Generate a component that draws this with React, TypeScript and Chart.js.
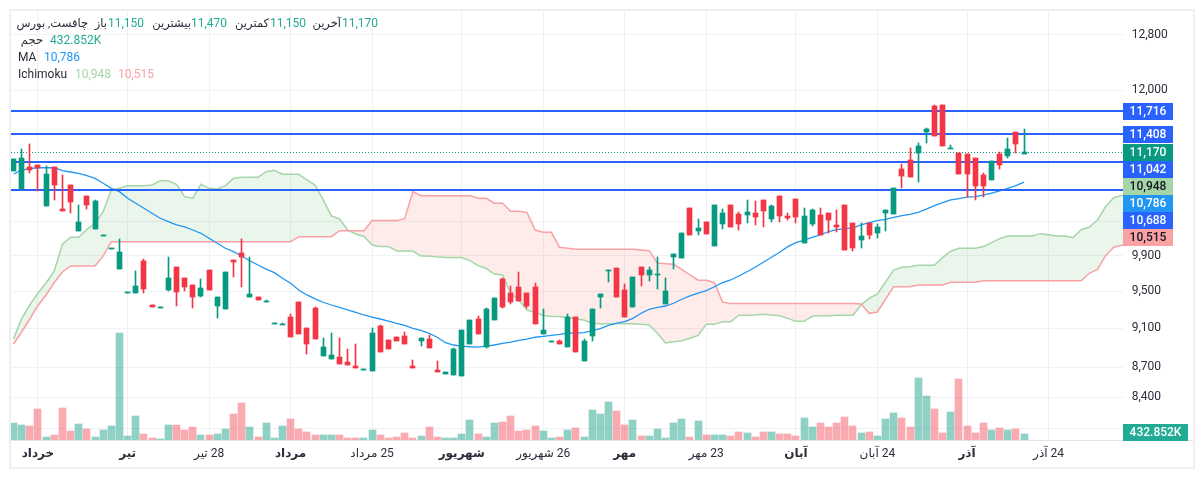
import React, { useEffect, useRef } from "react"
import { Chart, registerables } from "chart.js"

Chart.register(...registerables)

const opens = [
  10927, 10702, 10978, 11004, 10492, 10978, 10455, 10751, 10191, 10615,
  10215, 10136, 9988, 9750, 9490, 9483, 9842, 9351, 9325, 9516,
  9773, 9649, 9571, 9450, 9739, 9340, 9308, 9853, 9934, 9439,
  9439, 9384, 9153, 9146, 9221, 9384, 9104, 9319, 8813, 8782,
  8802, 8752, 8711, 8676, 8660, 9125, 8978, 9010, 9020, 8711,
  8968, 8988, 8670, 8630, 8620, 8610, 8936, 9200, 8905, 9189,
  9638, 9483, 9549, 9483, 9549, 9041, 8963, 8968, 8905, 9221,
  8762, 9020, 9439, 9738, 9762, 9516, 9330, 9773, 9683, 9690,
  9362, 9888, 9876, 10468, 10191, 10299, 10015, 10275, 10504, 10395,
  10383, 10407, 10566, 10335, 10615, 10371, 10578, 10050, 10275, 10383,
  10407, 10263, 10504, 10287, 10085, 10287, 10168, 10407, 10395, 10953,
  11068, 11159, 11435, 11786, 11800, 11219, 11159, 11146, 11094, 10877,
  10814, 11146, 11120, 11435, 11150,
]
const closes = [
  11081, 11094, 10940, 10969, 10890, 10751, 10431, 10541, 10299, 10508,
  10554, 10140, 9990, 9946, 9492, 9560, 9527, 9333, 9327, 9649,
  9494, 9549, 9439, 9538, 9516, 9439, 9717, 9830, 9888, 9472,
  9406, 9395, 9155, 9148, 9010, 9041, 8936, 8988, 8905, 8823,
  8731, 8721, 8690, 8678, 9051, 8854, 8884, 8968, 8936, 8690,
  8999, 8894, 8650, 8650, 8884, 9083, 9189, 9041, 9308, 9428,
  9330, 9384, 9395, 9340, 9147, 9083, 8965, 8936, 9221, 8854,
  8968, 9308, 9472, 9740, 9439, 9221, 9661, 9683, 9739, 9692,
  9505, 9923, 10168, 10144, 10227, 10156, 10504, 10407, 10239, 10275,
  10419, 10359, 10431, 10492, 10371, 10347, 10359, 10371, 10443, 10144,
  10323, 10239, 9969, 9992, 10132, 10144, 10239, 10443, 10714, 10864,
  10852, 11250, 11474, 11382, 11250, 11221, 10890, 10890, 10739, 10739,
  11055, 11004, 11211, 11277, 11170,
]
const highs = [
  11081, 11211, 11277, 11004, 10991, 10978, 10877, 10751, 10504, 10615,
  10566, 10140, 9990, 10097, 9492, 9728, 9865, 9351, 9327, 9888,
  9773, 9649, 9571, 9638, 9739, 9439, 9717, 9853, 10097, 9888,
  9439, 9406, 9155, 9157, 9254, 9384, 9104, 9330, 8999, 9051,
  8999, 8884, 8936, 8678, 9104, 9136, 8978, 9010, 9062, 8772,
  8999, 9030, 8762, 8650, 8894, 9083, 9189, 9232, 9319, 9428,
  9649, 9560, 9717, 9483, 9594, 9308, 8965, 8978, 9254, 9221,
  8988, 9308, 9472, 9740, 9762, 9582, 9661, 9773, 9773, 9888,
  9649, 9923, 10168, 10468, 10335, 10299, 10504, 10455, 10504, 10419,
  10566, 10554, 10566, 10504, 10615, 10407, 10578, 10468, 10455, 10468,
  10407, 10443, 10504, 10287, 10287, 10287, 10275, 10443, 10714, 11017,
  11224, 11290, 11488, 11800, 11800, 11263, 11159, 11146, 11094, 10902,
  11055, 11172, 11355, 11435, 11470,
]
const lows = [
  10927, 10702, 10902, 10677, 10492, 10566, 10431, 10407, 10191, 10455,
  10215, 10136, 9988, 9750, 9490, 9483, 9483, 9333, 9325, 9505,
  9340, 9505, 9319, 9439, 9516, 9211, 9308, 9661, 9549, 9439,
  9406, 9384, 9153, 9146, 9010, 9041, 8833, 8988, 8813, 8782,
  8731, 8721, 8690, 8676, 8660, 8854, 8884, 8968, 8936, 8690,
  8915, 8894, 8650, 8630, 8620, 8610, 8936, 9041, 8894, 9189,
  9319, 9362, 9395, 9319, 9147, 9041, 8963, 8936, 8905, 8854,
  8762, 8968, 9319, 9605, 9439, 9221, 9330, 9560, 9616, 9527,
  9362, 9750, 9876, 10144, 10144, 10156, 10015, 10215, 10239, 10203,
  10287, 10263, 10239, 10299, 10299, 10323, 10287, 10050, 10251, 10144,
  10168, 10180, 9969, 9957, 9992, 10097, 10109, 10191, 10395, 10714,
  10852, 10789, 11290, 11382, 11250, 11219, 10890, 10603, 10566, 10603,
  10814, 10953, 11094, 11159, 11150,
]
// volume in thousands
const volumes = [
  1224, 1080, 1008, 2232, 216, 360, 2304, 648, 1152, 792,
  216, 720, 1008, 7704, 288, 1728, 432, 144, 72, 1080,
  1080, 720, 936, 360, 360, 432, 792, 1872, 2664, 936,
  216, 1224, 144, 1008, 1512, 792, 576, 360, 360, 360,
  360, 144, 144, 144, 720, 360, 144, 216, 504, 144,
  288, 936, 216, 144, 144, 432, 1440, 432, 216, 1224,
  1296, 1728, 648, 720, 1008, 648, 144, 216, 720, 864,
  216, 2160, 1872, 2736, 2088, 1080, 1440, 288, 288, 792,
  144, 1224, 1512, 216, 1368, 360, 360, 360, 288, 576,
  504, 216, 576, 576, 432, 432, 288, 1584, 936, 1224,
  936, 1224, 1656, 1008, 504, 576, 288, 1512, 1944, 1584,
  936, 4464, 3168, 2232, 504, 2016, 4392, 1008, 504, 1224,
  720, 864, 720, 792, 433,
]
const maValues = [
  10890, 10940, 10957, 10969, 10969, 10969, 10931, 10915, 10898, 10868,
  10835, 10773, 10710, 10668, 10587, 10526, 10464, 10403, 10343, 10303,
  10263, 10239, 10203, 10164, 10105, 10047, 9989, 9949, 9899, 9845,
  9796, 9750, 9709, 9646, 9590, 9516, 9461, 9417, 9381, 9351,
  9326, 9297, 9272, 9243, 9221, 9200, 9178, 9154, 9133, 9101,
  9080, 9048, 9007, 8950, 8926, 8915, 8908, 8905, 8915, 8926,
  8943, 8957, 8975, 8988, 9007, 9017, 9027, 9038, 9051, 9051,
  9055, 9076, 9097, 9133, 9157, 9171, 9207, 9261, 9305, 9326,
  9340, 9370, 9414, 9450, 9480, 9508, 9552, 9597, 9627, 9672,
  9720, 9770, 9827, 9885, 9943, 10008, 10054, 10085, 10117, 10144,
  10183, 10207, 10219, 10229, 10263, 10291, 10315, 10331, 10355, 10375,
  10391, 10415, 10455, 10496, 10533, 10566, 10582, 10600, 10607, 10624,
  10649, 10677, 10710, 10743, 10786,
]
const spanA = [
  8988, 9205, 9351, 9483, 9594, 9728, 10035, 10117, 10117, 10211,
  10283, 10423, 10689, 10710, 10743, 10743, 10743, 10751, 10805, 10805,
  10760, 10607, 10587, 10760, 10710, 10701, 10743, 10835, 10848, 10848,
  10848, 10919, 10936, 10886, 10886, 10886, 10814, 10751, 10566, 10371,
  10335, 10203, 10156, 10126, 10027, 10010, 10010, 9957, 9957, 9957,
  9899, 9899, 9888, 9882, 9882, 9882, 9847, 9790, 9756, 9694,
  9683, 9478, 9406, 9297, 9270, 9238, 9227, 9227, 9216, 9200,
  9189, 9154, 9150, 9150, 9150, 9150, 9150, 9143, 9136, 9048,
  8947, 8960, 8971, 8996, 9027, 9143, 9143, 9171, 9171, 9240,
  9240, 9243, 9251, 9243, 9235, 9207, 9175, 9175, 9229, 9235,
  9235, 9240, 9240, 9240, 9351, 9425, 9472, 9605, 9739, 9770,
  9777, 9793, 9793, 9793, 9880, 9954, 9989, 9989, 9989, 10008,
  10054, 10101, 10132, 10132, 10132, 10132, 10160, 10148, 10132, 10132,
  10112, 10207, 10239, 10323, 10484, 10594, 10624, 10630,
]
const spanB = [
  8936, 9062, 9200, 9346, 9461, 9599, 9717, 9785, 9785, 9785,
  9785, 9899, 10065, 10065, 10065, 10065, 10065, 10065, 10065, 10065,
  10065, 10065, 10065, 10065, 10065, 10065, 10065, 10065, 10065, 10065,
  10065, 10065, 10065, 10065, 10065, 10124, 10124, 10124, 10124, 10124,
  10195, 10195, 10195, 10195, 10315, 10315, 10315, 10315, 10339, 10668,
  10619, 10619, 10619, 10619, 10619, 10619, 10619, 10587, 10587, 10526,
  10526, 10427, 10427, 10415, 10203, 10176, 10176, 10000, 9989, 9977,
  9977, 9977, 9977, 9977, 9977, 9977, 9977, 9969, 9961, 9819,
  9811, 9804, 9747, 9683, 9624, 9624, 9597, 9384, 9366, 9366,
  9366, 9366, 9366, 9366, 9366, 9366, 9366, 9366, 9366, 9366,
  9366, 9366, 9366, 9366, 9362, 9261, 9275, 9414, 9552, 9552,
  9552, 9571, 9571, 9571, 9571, 9601, 9601, 9601, 9601, 9619,
  9619, 9619, 9619, 9619, 9619, 9619, 9619, 9619, 9619, 9619,
  9619, 9619, 9702, 9747, 9903, 10000, 10023, 10030,
]

const priceTicks = [12800, 12000, 10700, 10300, 9900, 9500, 9100, 8700, 8400, 8100]
const hiddenPriceLabels = [10700, 10300, 8100]
const levelLines = [11716, 11408, 11042, 10688]
const lastPrice = 11170
const dateTickIndexes = [3, 14, 24, 34, 44, 55, 65, 75, 85, 96, 106, 117, 127]
const dateTickLabels = [
  "خرداد", "تیر", "28 تیر", "مرداد", "25 مرداد", "شهریور", "26 شهریور",
  "مهر", "23 مهر", "آبان", "24 آبان", "آذر", "24 آذر",
]
const boldDateTicks = ["خرداد", "تیر", "مرداد", "شهریور", "مهر", "آبان", "آذر"]

const GREEN = "#089981"
const RED = "#F23645"
const BLUE = "#2962FF"
const MA_BLUE = "#2196F3"
const SPAN_GREEN = "#A5D6A7"
const SPAN_RED = "#FAA1A4"
const VOL_GREEN = "#22AB94"
const TEXT = "#2a2e39"
const GRID = "#f0f1f4"
const FONT = 'Roboto, "Noto Sans", "DejaVu Sans", sans-serif'
const WICK_DATASET = 4

const isUp = (i: number) => closes[i] >= opens[i]

// [text, edge, text y, colour, rtl]
const legendRows: [string, number, number, string, boolean][] = [
  ["چافست, بورس", 88, 24, TEXT, true],
  ["باز", 107, 24, TEXT, true],
  ["11,150", 108, 24, VOL_GREEN, false],
  ["بیشترین", 191, 24, TEXT, true],
  ["11,470", 191, 24, VOL_GREEN, false],
  ["کمترین", 269, 24, TEXT, true],
  ["11,150", 270, 24, VOL_GREEN, false],
  ["آخرین", 341, 24, TEXT, true],
  ["11,170", 342, 24, VOL_GREEN, false],
  ["حجم", 43, 41, TEXT, true],
  ["432.852K", 50, 41, VOL_GREEN, false],
  ["MA", 18, 58, TEXT, false],
  ["10,786", 44, 58, MA_BLUE, false],
  ["Ichimoku", 18, 75, TEXT, false],
  ["10,948", 75, 75, SPAN_GREEN, false],
  ["10,515", 118, 75, SPAN_RED, false],
]

// price labels on the right, top to bottom
const priceBadges: [number, string, string][] = [
  [11716, BLUE, "#ffffff"],
  [11408, BLUE, "#ffffff"],
  [11170, GREEN, "#ffffff"],
  [11042, BLUE, "#ffffff"],
  [10948, SPAN_GREEN, "#131722"],
  [10786, MA_BLUE, "#ffffff"],
  [10688, BLUE, "#ffffff"],
  [10515, SPAN_RED, "#131722"],
]

// crisp candles, like the original renderer
const snapBars = {
  id: "snapBars",
  afterDatasetsUpdate(chart: any) {
    chart.getSortedVisibleDatasetMetas().forEach((meta: any) => {
      if (meta.type !== "bar") return
      meta.data.forEach((el: any) => {
        el.x = Math.round(el.x - 0.5) + 0.5
        el.y = Math.round(el.y)
        el.base = Math.round(el.base)
        if (el.y === el.base) el.base = el.y + 1
      })
    })
  },
}

const overlays = {
  id: "overlays",
  // the levels sit under the candles, over the cloud
  beforeDatasetDraw(chart: any, args: any) {
    if (args.index !== WICK_DATASET) return
    const { ctx, chartArea, scales } = chart
    const y = scales.y
    ctx.save()

    ctx.strokeStyle = BLUE
    ctx.lineWidth = 2
    levelLines.forEach((p) => {
      const py = Math.round(y.getPixelForValue(p))
      ctx.beginPath()
      ctx.moveTo(chartArea.left, py)
      ctx.lineTo(chartArea.right, py)
      ctx.stroke()
    })

    // last price
    ctx.strokeStyle = GREEN
    ctx.lineWidth = 1
    ctx.setLineDash([1, 2])
    const lastY = Math.round(y.getPixelForValue(lastPrice)) + 0.5
    ctx.beginPath()
    ctx.moveTo(chartArea.left, lastY)
    ctx.lineTo(chartArea.right, lastY)
    ctx.stroke()
    ctx.setLineDash([])
    ctx.restore()
  },
  afterDraw(chart: any) {
    const { ctx, chartArea, scales } = chart
    const y = scales.y
    ctx.save()

    // frame and the axis line
    ctx.strokeStyle = "#eeeef3"
    ctx.lineWidth = 2
    ctx.strokeRect(10, 10, 1184, 458)
    ctx.strokeStyle = "#e0e3eb"
    ctx.lineWidth = 1
    ctx.beginPath()
    ctx.moveTo(11, chartArea.bottom + 0.5)
    ctx.lineTo(1193, chartArea.bottom + 0.5)
    ctx.stroke()

    // stacked price badges
    ctx.font = `500 12px ${FONT}`
    ctx.textBaseline = "middle"
    ctx.textAlign = "center"
    ctx.direction = "ltr"
    let prevY = -100
    priceBadges.forEach(([p, bg, fg]) => {
      const cy = Math.max(y.getPixelForValue(p), prevY + 17)
      prevY = cy
      ctx.fillStyle = bg
      ctx.fillRect(chartArea.right, Math.round(cy - 8.5), 50, 17)
      ctx.fillStyle = fg
      ctx.fillText(p.toLocaleString("en-US"), chartArea.right + 25, Math.round(cy - 8.5) + 9)
    })

    // volume badge
    ctx.fillStyle = VOL_GREEN
    ctx.fillRect(chartArea.right, 424, 65, 17)
    ctx.fillStyle = "#ffffff"
    ctx.fillText("432.852K", chartArea.right + 32.5, 433)

    // legend
    legendRows.forEach(([text, x, ty, color, rtl]) => {
      ctx.font = rtl ? `11.5px ${FONT}` : `12px ${FONT}`
      ctx.direction = rtl ? "rtl" : "ltr"
      ctx.textAlign = rtl ? "right" : "left"
      ctx.fillStyle = color
      ctx.fillText(text, x, ty)
    })
    ctx.restore()
  },
}

export default function App() {
  const ref = useRef<HTMLCanvasElement>(null)

  useEffect(() => {
    let chart: Chart | null = null
    if (ref.current) {
      chart = new Chart(ref.current, {
        data: {
          datasets: [
            {
              type: "bar",
              yAxisID: "v",
              order: 6,
              grouped: false,
              barThickness: 7,
              data: volumes.map((v, i) => ({ x: i, y: v })),
              backgroundColor: volumes.map((_, i) =>
                isUp(i) ? "rgba(8,153,129,0.45)" : "rgba(242,54,69,0.42)"
              ),
            },
            {
              type: "line",
              order: 5,
              data: spanA.map((v, i) => ({ x: i, y: v })),
              borderColor: SPAN_GREEN,
              borderWidth: 1.5,
              pointRadius: 0,
              fill: {
                target: "+1",
                above: "rgba(67,160,71,0.11)",
                below: "rgba(244,67,54,0.10)",
              },
            },
            {
              type: "line",
              order: 4,
              data: spanB.map((v, i) => ({ x: i, y: v })),
              borderColor: SPAN_RED,
              borderWidth: 1.5,
              pointRadius: 0,
            },
            {
              type: "line",
              order: 3,
              data: maValues.map((v, i) => ({ x: i, y: v })),
              borderColor: MA_BLUE,
              borderWidth: 1.3,
              pointRadius: 0,
            },
            {
              type: "bar",
              order: 2,
              grouped: false,
              barThickness: 1,
              data: highs.map((h, i) => ({ x: i, y: [lows[i], h] })),
              backgroundColor: highs.map((_, i) => (isUp(i) ? GREEN : RED)),
            },
            {
              type: "bar",
              order: 1,
              grouped: false,
              barThickness: 5,
              data: opens.map((o, i) => ({ x: i, y: [o, closes[i]] })),
              backgroundColor: opens.map((_, i) => (isUp(i) ? GREEN : RED)),
            },
          ],
        } as any,
        options: {
          responsive: false,
          animation: false,
          events: [],
          font: { family: FONT },
          layout: { padding: { left: 11, top: 11, right: 10, bottom: 11 } },
          plugins: {
            legend: { display: false },
            tooltip: { enabled: false },
          },
          scales: {
            x: {
              type: "linear",
              offset: false,
              min: -0.307,
              max: 136.135,
              afterFit: (s: any) => {
                s.height = 27
                s.paddingLeft = 0
                s.paddingRight = 0
              },
              afterBuildTicks: (s: any) => {
                s.ticks = dateTickIndexes.map((value) => ({ value }))
              },
              border: { display: false },
              grid: { color: GRID, drawTicks: false, offset: false },
              ticks: {
                autoSkip: false,
                maxRotation: 0,
                padding: 7,
                color: TEXT,
                font: (c: any) => ({
                  family: FONT,
                  size: 12,
                  weight: boldDateTicks.includes(
                    dateTickLabels[dateTickIndexes.indexOf(c.tick?.value)]
                  )
                    ? "bold"
                    : "normal",
                }),
                callback: (v: any) => dateTickLabels[dateTickIndexes.indexOf(v)],
              },
            },
            y: {
              type: "logarithmic",
              position: "right",
              min: 7992.6,
              max: 13162,
              afterFit: (s: any) => {
                s.width = 70
                s.paddingTop = 0
                s.paddingBottom = 0
              },
              afterBuildTicks: (s: any) => {
                s.ticks = priceTicks.map((value) => ({ value }))
              },
              border: { display: false },
              grid: { color: GRID, drawTicks: false },
              ticks: {
                autoSkip: false,
                padding: 8.7,
                color: TEXT,
                font: { family: FONT, size: 12 },
                callback: (v: any) =>
                  hiddenPriceLabels.includes(Number(v)) ? "" : Number(v).toLocaleString("en-US"),
              },
            },
            v: {
              type: "linear",
              display: false,
              min: 0,
              max: 30960,
            },
          },
        } as any,
        plugins: [snapBars, overlays],
      })
    }
    return () => {
      chart?.destroy()
    }
  }, [])

  return (
    <canvas
      ref={ref}
      width={1203}
      height={478}
      style={{ position: "fixed", left: 0, top: 0, display: "block", direction: "rtl" }}
    />
  )
}
